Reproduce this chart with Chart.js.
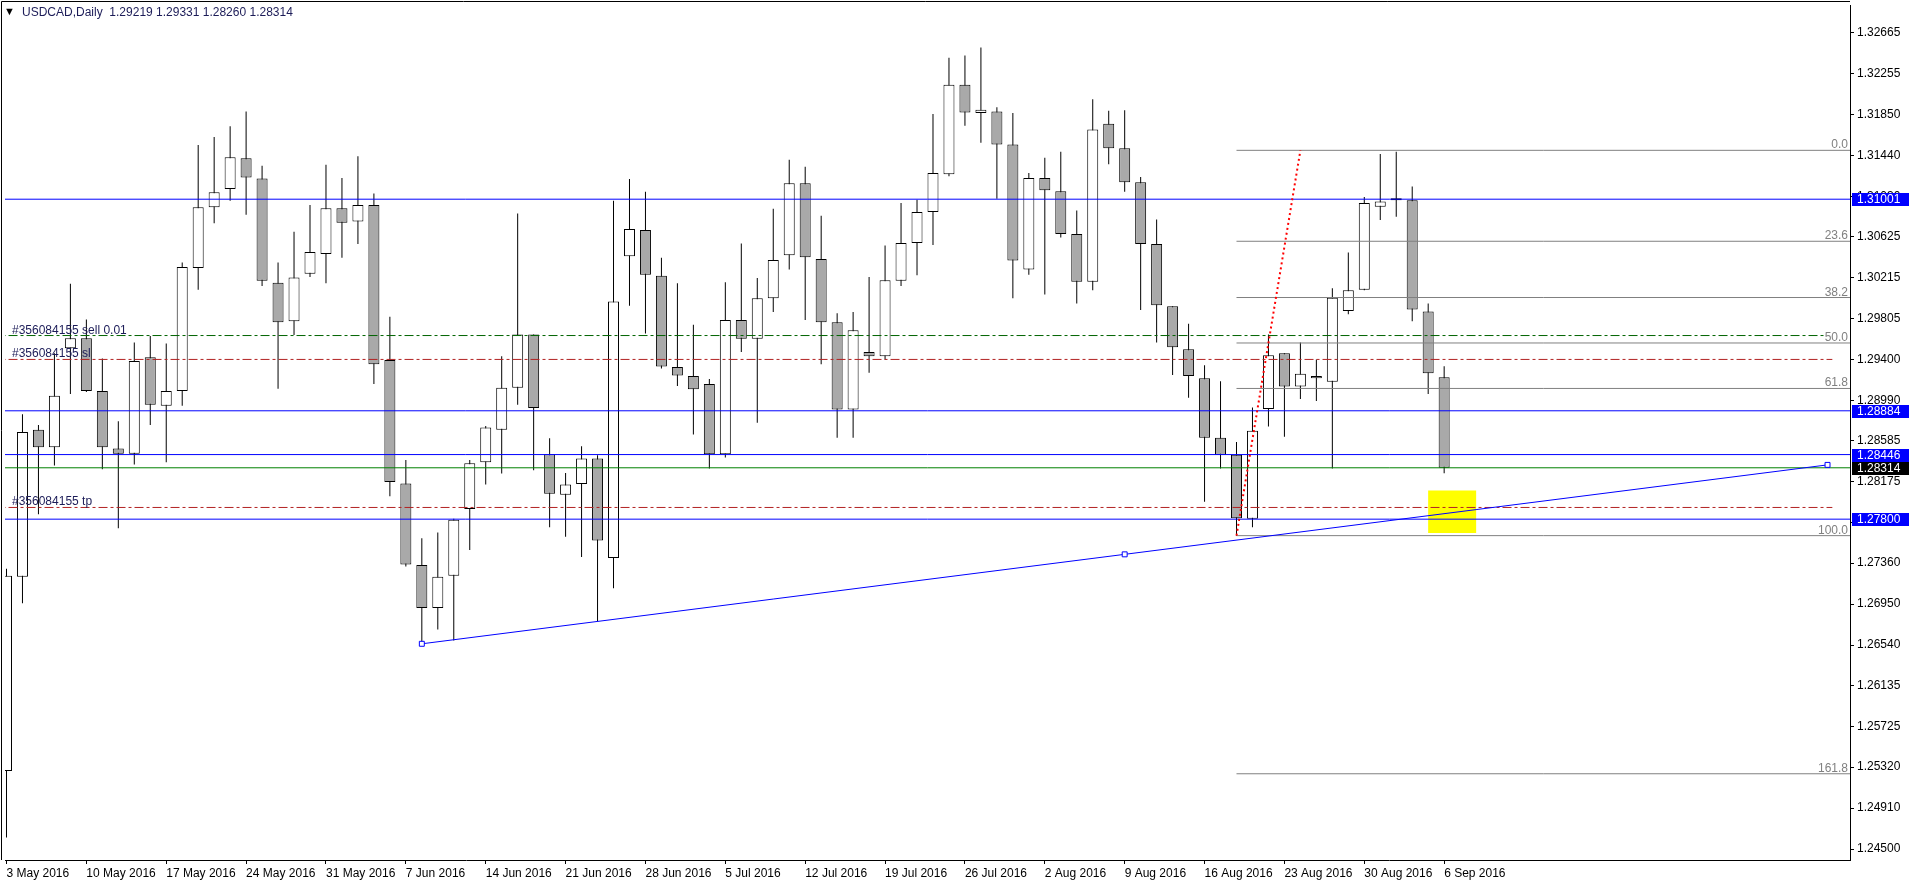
<!DOCTYPE html>
<html>
<head>
<meta charset="utf-8">
<title>USDCAD,Daily</title>
<script src="https://cdn.jsdelivr.net/npm/chart.js@4.4.1/dist/chart.umd.min.js"></script>
<style>
  html, body { margin: 0; padding: 0; background: #fff; overflow: hidden; }
  #wrap { width: 1910px; height: 884px; }
</style>
</head>
<body>
<div id="wrap"><canvas id="chart" width="1910" height="884"></canvas></div>
<script>
// daily bars, 3 May 2016 .. 6 Sep 2016
const opens = [
  1.25280, 1.27224, 1.28694, 1.28519, 1.29509, 1.29611, 1.29083, 1.28508, 1.28455, 1.29419,
  1.28934, 1.29083, 1.30314, 1.30921, 1.31102, 1.31411, 1.31208, 1.30164, 1.29781, 1.30255,
  1.30452, 1.30910, 1.30777, 1.30942, 1.29392, 1.28157, 1.27342, 1.26910, 1.27235, 1.27901,
  1.28370, 1.28694, 1.29115, 1.29648, 1.28449, 1.28045, 1.28151, 1.28407, 1.27411, 1.30431,
  1.30692, 1.30234, 1.29323, 1.29232, 1.29152, 1.28449, 1.29792, 1.29605, 1.30010, 1.30441,
  1.31160, 1.30404, 1.29770, 1.28897, 1.29472, 1.29429, 1.30186, 1.30564, 1.30873, 1.31251,
  1.32146, 1.31863, 1.31879, 1.31549, 1.30298, 1.31214, 1.31081, 1.30654, 1.30175, 1.31757,
  1.31512, 1.31171, 1.30553, 1.29930, 1.29499, 1.29211, 1.28615, 1.28444, 1.27805, 1.28902,
  1.29461, 1.29126, 1.29211, 1.29174, 1.29882, 1.30095, 1.30926, 1.30990, 1.30990, 1.29877,
  1.29219
];
const highs = [
  1.27304, 1.28849, 1.28742, 1.29461, 1.30154, 1.29797, 1.29408, 1.28780, 1.29568, 1.29632,
  1.29557, 1.30367, 1.31544, 1.31624, 1.31730, 1.31879, 1.31336, 1.30367, 1.30676, 1.30942,
  1.31347, 1.31214, 1.31432, 1.31059, 1.29824, 1.28391, 1.27608, 1.27667, 1.27805, 1.28391,
  1.28732, 1.29430, 1.30857, 1.29648, 1.28609, 1.28263, 1.28529, 1.28439, 1.30985, 1.31203,
  1.31075, 1.30415, 1.30159, 1.29744, 1.29201, 1.30170, 1.30559, 1.30212, 1.30905, 1.31395,
  1.31326, 1.30836, 1.29861, 1.29872, 1.30223, 1.30537, 1.30963, 1.30995, 1.31853, 1.32417,
  1.32439, 1.32519, 1.31922, 1.31863, 1.31262, 1.31416, 1.31475, 1.30889, 1.32002, 1.31885,
  1.31890, 1.31224, 1.30798, 1.29930, 1.29754, 1.29339, 1.29179, 1.28572, 1.28918, 1.29648,
  1.29461, 1.29568, 1.29397, 1.30111, 1.30468, 1.31022, 1.31453, 1.31475, 1.31129, 1.29957,
  1.29331
];
const lows = [
  1.24615, 1.26958, 1.27848, 1.28338, 1.29051, 1.29073, 1.28300, 1.27709, 1.28348, 1.28742,
  1.28370, 1.28934, 1.30095, 1.30761, 1.30985, 1.30846, 1.30133, 1.29105, 1.29643, 1.30223,
  1.30159, 1.30415, 1.30553, 1.29152, 1.28029, 1.27326, 1.26553, 1.26697, 1.26585, 1.27491,
  1.28146, 1.28258, 1.28945, 1.28290, 1.27720, 1.27624, 1.27422, 1.26782, 1.27108, 1.29935,
  1.29658, 1.29307, 1.29131, 1.28647, 1.28306, 1.28418, 1.29472, 1.28764, 1.29872, 1.30298,
  1.29792, 1.29350, 1.28615, 1.28615, 1.29265, 1.29398, 1.30133, 1.30239, 1.30543, 1.31230,
  1.31736, 1.31565, 1.31006, 1.30010, 1.30244, 1.30047, 1.30617, 1.29957, 1.30090, 1.31352,
  1.31075, 1.29893, 1.29568, 1.29243, 1.29014, 1.27975, 1.28306, 1.27635, 1.27720, 1.28726,
  1.28625, 1.29003, 1.28982, 1.28306, 1.29850, 1.30090, 1.30793, 1.30825, 1.29781, 1.29051,
  1.28260
];
const closes = [
  1.27235, 1.28673, 1.28519, 1.29035, 1.29611, 1.29083, 1.28519, 1.28455, 1.29382, 1.28945,
  1.29083, 1.30324, 1.30921, 1.31070, 1.31421, 1.31219, 1.30186, 1.29770, 1.30218, 1.30473,
  1.30910, 1.30766, 1.30942, 1.29350, 1.28173, 1.27347, 1.26910, 1.27224, 1.27794, 1.28359,
  1.28716, 1.29115, 1.29648, 1.28913, 1.28055, 1.28146, 1.28407, 1.27587, 1.29978, 1.30702,
  1.30244, 1.29328, 1.29238, 1.29099, 1.28449, 1.29792, 1.29605, 1.30010, 1.30393, 1.31160,
  1.30420, 1.29770, 1.28897, 1.29690, 1.29429, 1.30191, 1.30564, 1.30873, 1.31262, 1.32146,
  1.31869, 1.31895, 1.31549, 1.30388, 1.31214, 1.31091, 1.30654, 1.30175, 1.31698, 1.31512,
  1.31171, 1.30553, 1.29941, 1.29520, 1.29232, 1.28615, 1.28444, 1.27810, 1.28684, 1.29440,
  1.29126, 1.29254, 1.29232, 1.30015, 1.30090, 1.30964, 1.30979, 1.30995, 1.29898, 1.29259,
  1.28314
];

const dateTickBars = [0, 5, 10, 15, 20, 25, 30, 35, 40, 45, 50, 55, 60, 65, 70, 75, 80, 85, 90];
const dateLabels = ['3 May 2016', '10 May 2016', '17 May 2016', '24 May 2016', '31 May 2016',
  '7 Jun 2016', '14 Jun 2016', '21 Jun 2016', '28 Jun 2016', '5 Jul 2016', '12 Jul 2016',
  '19 Jul 2016', '26 Jul 2016', '2 Aug 2016', '9 Aug 2016', '16 Aug 2016', '23 Aug 2016',
  '30 Aug 2016', '6 Sep 2016'];
const priceTicks = ['1.24500', '1.24910', '1.25320', '1.25725', '1.26135', '1.26540', '1.26950',
  '1.27360', '1.27770', '1.28175', '1.28585', '1.28990', '1.29400', '1.29805', '1.30215',
  '1.30625', '1.31030', '1.31440', '1.31850', '1.32255', '1.32665'];

// horizontal lines and objects
const blueLevels = [1.31001, 1.28884, 1.28446, 1.27800];
const bidPrice = 1.28314;
const orderLevels = [1.29637, 1.29398, 1.27917];
const orderNames = ['#356084155 sell 0.01', '#356084155 sl', '#356084155 tp'];
const fibHigh = 1.31490;
const fibLow = 1.27635;
const fibRatios = [0.0, 23.6, 38.2, 50.0, 61.8, 100.0, 161.8];
const fibBars = [77, 81];
const trendBars = [26, 70, 114];
const trendPrices = [1.26553, 1.27448, 1.28343];
const boxBars = [89, 92];
const boxPrices = [1.27661, 1.28087];

const header = 'USDCAD,Daily  1.29219 1.29331 1.28260 1.28314';

const FONT = '"Liberation Sans", Arial, sans-serif';
Chart.defaults.font.family = FONT;
Chart.defaults.font.size = 12;
Chart.defaults.color = '#000';

function hline(level, x0, x1, color, dash) {
  return {
    type: 'line',
    data: [{ x: x0, y: level }, { x: x1, y: level }],
    borderColor: color,
    borderWidth: 1,
    borderDash: dash || [],
    pointRadius: 0,
    clip: 0,
    order: 1
  };
}

const fibLevels = fibRatios.map(r => fibHigh - (fibHigh - fibLow) * r / 100);

const datasets = [
  {
    type: 'bar',
    data: [{ x: (boxBars[0] + boxBars[1]) / 2, y: boxPrices }],
    backgroundColor: '#ffff00',
    barThickness: 48,
    grouped: false,
    inflateAmount: 0,
    order: 10
  },
  {
    type: 'bar',
    data: lows.map((l, i) => ({ x: i, y: [l, highs[i]] })),
    backgroundColor: '#000',
    barThickness: 1,
    grouped: false,
    inflateAmount: 0,
    order: 6
  },
  {
    type: 'bar',
    data: opens.map((o, i) => ({ x: i, y: [o, closes[i]] })),
    backgroundColor: opens.map((o, i) => closes[i] >= o ? '#ffffff' : '#a9a9a9'),
    borderColor: '#000',
    borderWidth: 1,
    borderSkipped: false,
    barThickness: 11,
    minBarLength: 2,
    grouped: false,
    inflateAmount: 0,
    order: 5
  }
];

blueLevels.forEach(l => datasets.push(hline(l, -1, 116, '#0000ff')));
datasets.push(hline(bidPrice, -1, 116, '#008000'));
datasets.push(hline(orderLevels[0], -1, 113.8, '#006400', [9, 3, 3, 3]));
datasets.push(hline(orderLevels[1], -1, 114.3, '#b22222', [9, 3, 3, 3]));
datasets.push(hline(orderLevels[2], -1, 114.3, '#b22222', [9, 3, 3, 3]));
fibLevels.forEach(l => datasets.push(hline(l, fibBars[0], 116, '#808080')));

// fibo base line (red dotted)
datasets.push({
  type: 'line',
  data: [{ x: fibBars[0], y: fibLow }, { x: fibBars[1], y: fibHigh }],
  borderColor: '#ff0000',
  borderWidth: 2,
  borderDash: [2, 3],
  pointRadius: 0,
  order: 0
});

// blue trend line with its anchor points
datasets.push({
  type: 'line',
  data: trendBars.map((b, i) => ({ x: b, y: trendPrices[i] })),
  borderColor: '#0000ff',
  borderWidth: 1,
  pointStyle: 'rect',
  pointRadius: 3.5,
  pointBorderWidth: 1,
  pointBorderColor: '#0000ff',
  pointBackgroundColor: '#ffffff',
  tension: 0,
  order: 0
});

const overlay = {
  id: 'overlay',
  afterDraw(chart) {
    const { ctx, chartArea: a, scales: { y } } = chart;
    ctx.save();

    // frame top and left
    ctx.strokeStyle = '#000';
    ctx.lineWidth = 1;
    ctx.beginPath();
    ctx.moveTo(1.5, a.bottom);
    ctx.lineTo(1.5, 1.5);
    ctx.lineTo(a.right, 1.5);
    ctx.stroke();

    // header
    ctx.textBaseline = 'middle';
    ctx.fillStyle = '#000';
    ctx.font = '11px ' + FONT;
    ctx.fillText('\u25BC', 4, 12);
    ctx.font = '12px ' + FONT;
    ctx.fillStyle = '#1c1c58';
    ctx.fillText(header, 22, 13);

    // order descriptions
    ctx.textBaseline = 'alphabetic';
    ctx.fillStyle = '#1c1c58';
    orderLevels.forEach((l, i) => {
      ctx.fillText(orderNames[i], 12, Math.round(y.getPixelForValue(l)) - 2);
    });

    // fibo labels
    ctx.textAlign = 'right';
    ctx.fillStyle = '#808080';
    fibLevels.forEach((l, i) => {
      ctx.fillText(fibRatios[i].toFixed(1), a.right - 2, Math.round(y.getPixelForValue(l)) - 2);
    });

    // price tags on the axis
    ctx.textAlign = 'left';
    ctx.textBaseline = 'middle';
    const tag = (price, bg) => {
      const py = Math.round(y.getPixelForValue(price));
      ctx.fillStyle = bg;
      ctx.fillRect(a.right + 2, py - 6, 57, 13);
      ctx.fillStyle = '#fff';
      ctx.fillText(price.toFixed(5), a.right + 7, py + 0.5);
    };
    blueLevels.forEach(l => tag(l, '#0000ff'));
    tag(bidPrice, '#000');

    ctx.restore();
  }
};

new Chart(document.getElementById('chart'), {
  type: 'bar',
  data: { datasets },
  options: {
    responsive: false,
    animation: false,
    events: [],
    layout: { padding: { left: 2, top: 2, right: 0, bottom: 0 } },
    plugins: { legend: { display: false }, tooltip: { enabled: false } },
    scales: {
      x: {
        type: 'linear',
        offset: false,
        min: -0.09375,
        max: 115.40625,
        afterBuildTicks: s => { s.ticks = dateTickBars.map(v => ({ value: v })); },
        afterFit: s => { s.height = 24; s.paddingLeft = 0; s.paddingRight = 0; },
        grid: { offset: false, drawOnChartArea: false, tickLength: 4, color: '#000' },
        border: { display: true, color: '#000' },
        ticks: {
          autoSkip: false, maxRotation: 0, minRotation: 0, align: 'start',
          labelOffset: 0, padding: 2, color: '#000',
          callback: (v, i) => dateLabels[i]
        }
      },
      y: {
        type: 'linear',
        position: 'right',
        min: 1.24390,
        max: 1.32944,
        beginAtZero: false,
        afterBuildTicks: s => { s.ticks = priceTicks.map(t => ({ value: parseFloat(t) })); },
        afterFit: s => { s.width = 60; s.paddingTop = 0; s.paddingBottom = 0; },
        grid: { drawOnChartArea: false, tickLength: 4, color: '#000' },
        border: { display: true, color: '#000' },
        ticks: { padding: 3, color: '#000', callback: (v, i) => priceTicks[i] }
      }
    }
  },
  plugins: [overlay]
});
</script>
</body>
</html>
